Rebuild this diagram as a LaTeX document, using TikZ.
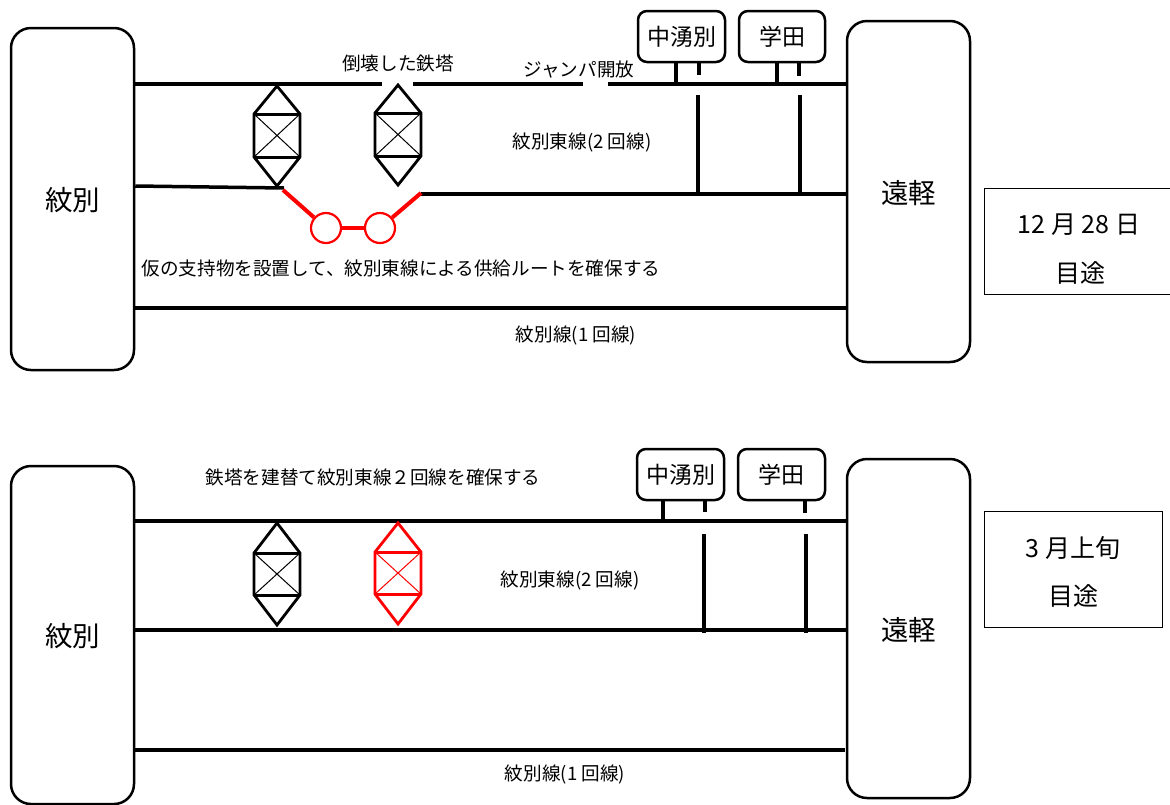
\documentclass[tikz,border=0pt]{standalone}
\usepackage{fontspec}
\setmainfont{Noto Sans CJK JP}
\tikzset{
  x=1pt,y=-1pt,
  station/.style={draw=black,line width=2.5pt,rounded corners=20pt,fill=white,inner sep=0pt,align=center,font=\fontsize{27.5}{30}\selectfont,text depth=0pt},
  substation/.style={draw=black,line width=2.5pt,rounded corners=9pt,fill=white,inner sep=0pt,font=\fontsize{23}{26}\selectfont},
  datebox/.style={draw=black,line width=0.8pt,fill=white,inner sep=0pt},
  datetext/.style={inner sep=0pt,yshift=-1pt,font=\fontsize{25}{28}\selectfont},
  label/.style={inner sep=0pt,yshift=-2pt,font=\fontsize{18.6}{22}\selectfont},
  wire/.style={draw=black,line width=3.5pt},
  thinwire/.style={draw=black,line width=3.5pt},
  redwire/.style={draw=red,line width=4pt},
  redcircle/.style={circle,draw=red,line width=2.2pt,fill=white,minimum size=30pt,inner sep=0pt},
}
\newcommand{\towerdraw}[6]{%
  \coordinate (t#6a) at (#1,#2);
  \coordinate (t#6b) at (#1-23,#3);
  \coordinate (t#6c) at (#1+23,#3);
  \coordinate (t#6d) at (#1-23,#4);
  \coordinate (t#6e) at (#1+23,#4);
  \coordinate (t#6f) at (#1,#5);
  \draw[#6,line width=2.8pt,line join=miter]
    (t#6b) -- (t#6a) -- (t#6c) -- (t#6e) -- (t#6f) -- (t#6d) -- cycle;
  \draw[#6,line width=3pt] (t#6b) -- (t#6c) (t#6d) -- (t#6e);
  \draw[#6,line width=1pt] (t#6b) -- (t#6e) (t#6c) -- (t#6d);
}
\begin{document}
\begin{tikzpicture}
\useasboundingbox (0,0) rectangle (1170,804);
% ---------- upper panel wires
\node[station,minimum width=123pt,minimum height=342pt] (monA) at (72.5,199) {紋別};
\node[station,minimum width=123pt,minimum height=341pt] (enA) at (908.5,191.5) {遠軽};
\node[substation,minimum width=87pt,minimum height=51pt] (nakaA) at (681.5,36.5) {中湧別};
\node[substation,minimum width=86pt,minimum height=51pt] (gakuA) at (782,36.5) {学田};
\node[datebox,minimum width=190pt,minimum height=106pt] (dateA) at (1079,241) {};
\node[datetext] (dateA1) at (1079,224) {12 月 28 日};
\node[datetext] (dateA2) at (1080,272) {目途};

\coordinate (gapL) at (382,84);
\coordinate (gapR) at (413,84);
\coordinate (jumpL) at (583,84);
\coordinate (jumpR) at (608,84);
\draw[wire] (monA.east |- gapL) -- (gapL);
\draw[wire] (gapR) -- (jumpL);
\draw[wire] (jumpR) -- (enA.west |- jumpR);
\coordinate (brkL) at (284,188);
\coordinate (brkR) at (421,194);
\draw[wire] (monA.east |- 0,186) -- (brkL);
\draw[wire] (brkR) -- (enA.west |- brkR);
\coordinate (lowA) at (134,308);
\draw[wire] (lowA) -- (enA.west |- lowA);

% stubs upper
\coordinate (sA1) at (676,84);
\coordinate (sA2) at (699,75);
\coordinate (sA3) at (777,84);
\coordinate (sA4) at (799,76);
\draw[thinwire] (nakaA.south -| sA1) -- (sA1);
\draw[thinwire] (nakaA.south -| sA2) -- (sA2);
\draw[thinwire] (gakuA.south -| sA3) -- (sA3);
\draw[thinwire] (gakuA.south -| sA4) -- (sA4);
\coordinate (vA1t) at (698,95);
\coordinate (vA1b) at (698,193);
\coordinate (vA2t) at (800,95);
\coordinate (vA2b) at (800,193);
\draw[thinwire] (vA1t) -- (vA1b);
\draw[thinwire] (vA2t) -- (vA2b);

% towers upper
\towerdraw{277}{86}{114}{157}{186}{black}
\begin{scope}[shift={(121,-1)}]
\towerdraw{277}{86}{114}{157}{186}{black}
\end{scope}

% red temporary support
\node[redcircle] (rc1) at (326,228) {};
\node[redcircle] (rc2) at (380,228) {};
\coordinate (rl) at (283,190);
\coordinate (rr) at (421,193);
\draw[redwire] (rl) -- (rc1);
\draw[redwire] (rc1) -- (rc2);
\draw[redwire] (rc2) -- (rr);

\node[label] (lA1) at (398,61) {倒壊した鉄塔};
\node[label] (lA2) at (579,68) {ジャンパ開放};
\node[label] (lA3) at (582,140) {紋別東線(2 回線)};
\node[label] (lA4) at (401,266) {仮の支持物を設置して、紋別東線による供給ルートを確保する};
\node[label] (lA5) at (576,333) {紋別線(1 回線)};

% ---------- lower panel
\node[station,minimum width=123pt,minimum height=338pt] (monB) at (72.5,635) {紋別};
\node[station,minimum width=123pt,minimum height=339pt] (enB) at (908.5,628.5) {遠軽};
\node[substation,minimum width=87pt,minimum height=51pt] (nakaB) at (680.5,474.5) {中湧別};
\node[substation,minimum width=87pt,minimum height=51pt] (gakuB) at (781.5,474.5) {学田};
\node[datebox,minimum width=178pt,minimum height=116pt] (dateB) at (1073,569) {};
\node[datetext] (dateB1) at (1073,547) {3 月上旬};
\node[datetext] (dateB2) at (1073,595) {目途};

\coordinate (yB1) at (0,521);
\coordinate (yB2) at (0,630);
\coordinate (yB3) at (0,750);
\draw[wire] (monB.east |- yB1) -- (enB.west |- yB1);
\draw[wire] (monB.east |- yB2) -- (enB.west |- yB2);
\draw[wire] (monB.east |- yB3) -- (845,750);

\coordinate (sB1) at (663,521);
\coordinate (sB2) at (705,512);
\coordinate (sB3) at (805,513);
\draw[thinwire] (nakaB.south -| sB1) -- (sB1);
\draw[thinwire] (nakaB.south -| sB2) -- (sB2);
\draw[thinwire] (gakuB.south -| sB3) -- (sB3);
\coordinate (vB1t) at (704,534);
\coordinate (vB1b) at (704,633);
\coordinate (vB2t) at (806,534);
\coordinate (vB2b) at (806,633);
\draw[thinwire] (vB1t) -- (vB1b);
\draw[thinwire] (vB2t) -- (vB2b);

\towerdraw{277}{523}{553}{595}{625}{black}
\towerdraw{398}{523}{552}{594}{624}{red}

\node[label] (lB1) at (373,475) {鉄塔を建替て紋別東線２回線を確保する};
\node[label] (lB2) at (570,578) {紋別東線(2 回線)};
\node[label] (lB3) at (565,772) {紋別線(1 回線)};
\end{tikzpicture}
\end{document}
